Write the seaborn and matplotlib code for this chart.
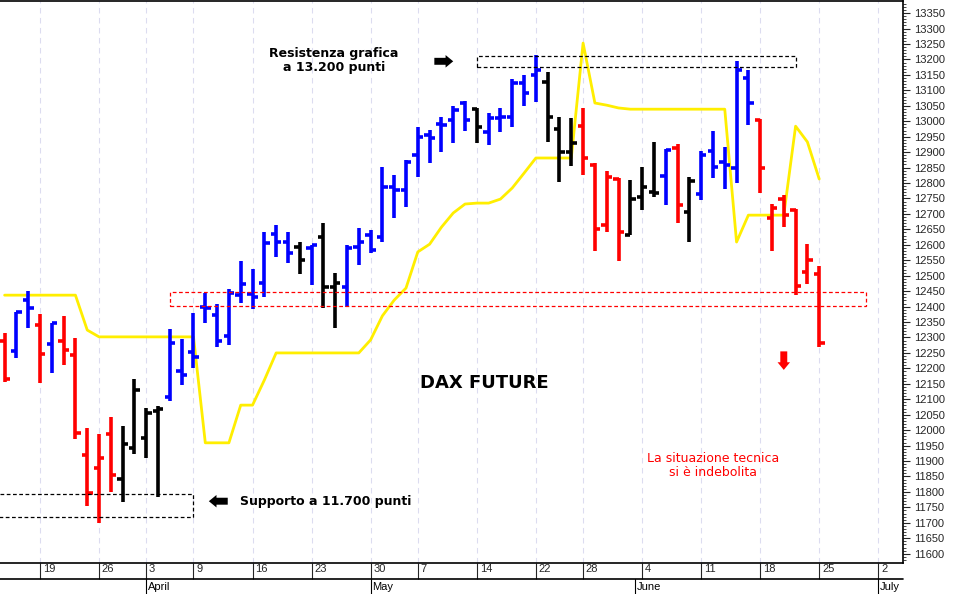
import numpy as np
import pandas as pd
import matplotlib
matplotlib.use("Agg")
import matplotlib.pyplot as plt
import matplotlib.transforms as mtrans
from matplotlib.lines import Line2D
import seaborn as sns

# daily OHLC of the DAX future, one row per trading day (index = trading day number)
opens = [12290, 12255, 12420, 12339, 12278, 12290, 12242, 11919, 11877, 11987,
         11842, 11942, 11974, 12061, 12107, 12190, 12252, 12400, 12373, 12305,
         12437, 12440, 12476, 12635, 12609, 12593, 12590, 12625, 12463, 12463,
         12593, 12632, 12625, 12787, 12777, 12890, 12955, 12990, 13004, 13060,
         13040, 12965, 13010, 13013, 13123, 13149, 13127, 12975, 12900, 12984,
         12858, 12664, 12813, 12632, 12755, 12771, 12823, 12913, 12706, 12764,
         12903, 12868, 12848, 13140, 13004, 12687, 12748, 12712, 12512, 12505]
highs = [12316, 12381, 12452, 12375, 12346, 12371, 12297, 12006, 11987, 12042,
         12013, 12165, 12071, 12077, 12329, 12294, 12378, 12444, 12408, 12457,
         12547, 12522, 12641, 12664, 12641, 12609, 12600, 12670, 12509, 12599,
         12654, 12648, 12852, 12826, 12874, 12981, 12971, 13013, 13049, 13065,
         13043, 13026, 13043, 13136, 13149, 13214, 13159, 13013, 13010, 13043,
         12865, 12839, 12816, 12810, 12852, 12933, 12910, 12926, 12819, 12903,
         12968, 12916, 13195, 13166, 13007, 12732, 12761, 12716, 12602, 12531]
lows = [12155, 12233, 12332, 12152, 12184, 12210, 11971, 11754, 11700, 11800,
        11768, 11923, 11910, 11784, 12094, 12145, 12200, 12347, 12269, 12276,
        12412, 12392, 12431, 12560, 12541, 12505, 12470, 12395, 12331, 12399,
        12535, 12573, 12609, 12687, 12722, 12819, 12865, 12900, 12929, 12968,
        12929, 12923, 12965, 12981, 13049, 13062, 12933, 12803, 12855, 12826,
        12580, 12641, 12547, 12632, 12712, 12755, 12729, 12670, 12609, 12745,
        12816, 12780, 12800, 12988, 12767, 12580, 12657, 12437, 12473, 12269]
closes = [12165, 12381, 12397, 12245, 12346, 12258, 11990, 11797, 11910, 11855,
          11955, 12129, 12055, 12068, 12281, 12180, 12236, 12395, 12289, 12444,
          12473, 12430, 12606, 12609, 12573, 12551, 12600, 12463, 12476, 12590,
          12609, 12583, 12787, 12777, 12868, 12949, 12945, 12988, 13036, 13004,
          12981, 13010, 13013, 13123, 13091, 13166, 13013, 12900, 12929, 12881,
          12651, 12819, 12641, 12748, 12787, 12767, 12907, 12729, 12806, 12890,
          12852, 12858, 13166, 13059, 12848, 12719, 12696, 12467, 12551, 12282]
bar_colors = (["r", "b", "b", "r", "b", "r", "r", "r", "r", "r", "k", "k", "k", "k"]
              + ["b"] * 11 + ["k", "b", "k", "k"] + ["b"] * 11 + ["k"] + ["b"] * 5
              + ["k", "k", "k", "r", "r", "r", "r", "k", "k", "k", "b", "r", "k"]
              + ["b"] * 5 + ["r"] * 6)
# yellow indicator line
signal = [12437, 12437, 12437, 12437, 12437, 12437, 12437, 12324, 12302, 12302,
          12302, 12302, 12302, 12302, 12302, 12302, 12302, 11959, 11959, 11959,
          12081, 12081, 12162, 12250, 12250, 12250, 12250, 12250, 12250, 12250,
          12250, 12292, 12370, 12421, 12460, 12577, 12602, 12657, 12703, 12732,
          12735, 12735, 12748, 12784, 12832, 12881, 12881, 12881, 12881, 13253,
          13059, 13052, 13043, 13039, 13039, 13039, 13039, 13039, 13039, 13039,
          13039, 13039, 12609, 12696, 12696, 12696, 12696, 12984, 12933, 12813]

day_ticks = [3, 8, 12, 16, 21, 26, 31, 35, 40, 45, 49, 54, 59, 64, 69, 74]
day_labels = ["19", "26", "3", "9", "16", "23", "30", "7", "14", "22", "28", "4", "11", "18", "25", "2"]
month_pos = [12, 31, 53.4, 74]
month_labels = ["April", "May", "June", "July"]

df = pd.DataFrame({"day": np.arange(len(opens)), "open": opens, "high": highs,
                   "low": lows, "close": closes, "color": bar_colors, "signal": signal})
cmap = {"r": "#ff0000", "b": "#0000ff", "k": "#000000"}

sns.set_style("white")
plt.rcParams["font.family"] = ["DejaVu Sans"]
plt.rcParams["text.color"] = "black"

fig = plt.figure(figsize=(9.57, 5.94), dpi=100)
ax = fig.add_axes([0.0, 0.0522, 0.9436, 0.946])

for x in day_ticks:
    ax.axvline(x, color="#dcdcf0", lw=0.8, ls=(0, (5, 4)), zorder=0)

sns.lineplot(data=df, x="day", y="signal", color="#ffee00", lw=2, ax=ax, zorder=2)

for _, r in df.iterrows():
    c = cmap[r["color"]]
    ax.vlines(r["day"], r["low"], r["high"], color=c, lw=2.6, zorder=3)
    ax.hlines(r["open"], r["day"] - 0.45, r["day"], color=c, lw=2.6, zorder=3)
    ax.hlines(r["close"], r["day"], r["day"] + 0.45, color=c, lw=2.6, zorder=3)

# zones
ax.add_patch(plt.Rectangle((40, 13175), 27, 36, fill=False, ec="k", lw=0.9, ls=(0, (3, 2)), zorder=4))
ax.add_patch(plt.Rectangle((14, 12402), 59, 45, fill=False, ec="#ff0000", lw=0.9, ls=(0, (3, 2)), zorder=4))
ax.add_patch(plt.Rectangle((-1, 11719), 17, 74, fill=False, ec="k", lw=0.9, ls=(0, (3, 2)), zorder=4))

fat = dict(arrowstyle="simple,head_width=0.9,head_length=0.55,tail_width=0.5",
           color="k", lw=0, shrinkA=0, shrinkB=0)

ax.text(27.9, 13195, "Resistenza grafica\na 13.200 punti", ha="center", va="center",
        fontsize=9, fontweight="bold", linespacing=1.1)
ax.annotate("", xy=(38.0, 13194), xytext=(36.4, 13194), arrowprops=fat)
ax.text(40.6, 12153, "DAX FUTURE", ha="center", va="center", fontsize=13, fontweight="bold")
ax.annotate("", xy=(17.3, 11770), xytext=(18.9, 11770), arrowprops=fat)
ax.text(19.9, 11770, "Supporto a 11.700 punti", ha="left", va="center", fontsize=9, fontweight="bold")
ax.text(60, 11885, "La situazione tecnica\nsi è indebolita", ha="center", va="center",
        fontsize=9, color="#ff0000", linespacing=1.1)
red = dict(fat, color="#ff0000")
ax.annotate("", xy=(66, 12195), xytext=(66, 12255), arrowprops=red)

ax.set_xlim(-0.39, 76.1)
ax.set_ylim(11570, 13389)
ax.set_xlabel("")
ax.set_ylabel("")

ax.yaxis.tick_right()
ax.set_yticks(np.arange(11600, 13351, 50))
ax.set_yticks(np.arange(11580, 13390, 10), minor=True)
ax.tick_params(axis="y", which="major", length=5, width=0.8, labelsize=8, pad=3, right=True, left=False)
ax.tick_params(axis="y", which="minor", length=2.5, width=0.6, right=True, left=False)
for lab in ax.get_yticklabels():
    lab.set_family("Liberation Sans")

ax.set_xticks(day_ticks)
ax.set_xticklabels(day_labels)
ax.tick_params(axis="x", bottom=True, length=11.5, width=0.8, labelsize=8, pad=-11)
offset = mtrans.ScaledTranslation(2 / 72, 0, fig.dpi_scale_trans)
for lab in ax.get_xticklabels():
    lab.set_ha("left")
    lab.set_family("Liberation Sans")
    lab.set_transform(lab.get_transform() + offset)

ax.spines["left"].set_visible(False)
for s in ["top", "right", "bottom"]:
    ax.spines[s].set_color("k")
    ax.spines[s].set_linewidth(1.2)

# month row
fig.add_artist(Line2D([0, 0.9436], [15 / 594, 15 / 594], color="k", lw=1.2))
bt = mtrans.blended_transform_factory(ax.transData, fig.transFigure)
for p, m in zip(month_pos, month_labels):
    ax.plot([p, p], [15 / 594, 0], transform=bt, color="k", lw=0.8, clip_on=False)
    ax.text(p + 0.15, 7 / 594, m, transform=bt, ha="left", va="center", fontsize=8,
            family="Liberation Sans")

fig.savefig("out.png", dpi=100)
